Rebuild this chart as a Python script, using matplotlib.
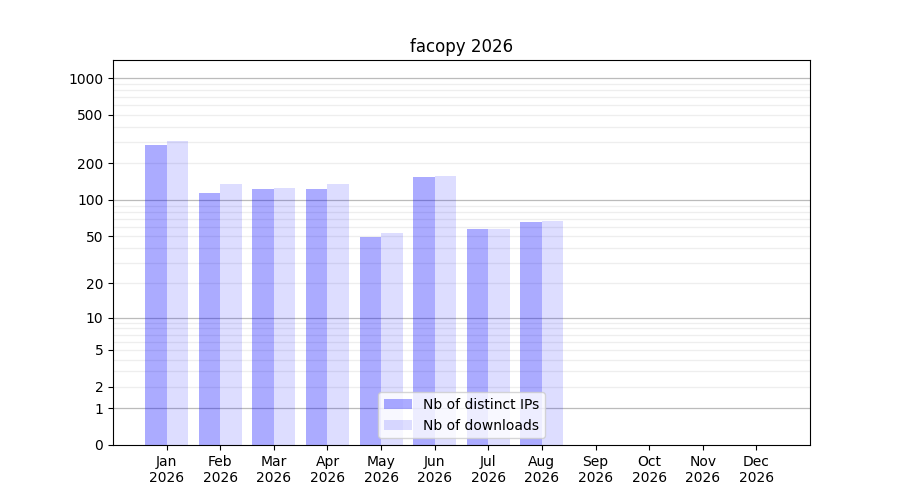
import numpy as np
import matplotlib
matplotlib.use('Agg')
import matplotlib.pyplot as plt

months = ['Jan', 'Feb', 'Mar', 'Apr', 'May', 'Jun', 'Jul', 'Aug', 'Sep', 'Oct', 'Nov', 'Dec']
year = 2026
distinct_ips = [285, 115, 124, 124, 49, 156, 57, 66, 0, 0, 0, 0]
downloads = [307, 136, 126, 136, 53, 159, 57, 67, 0, 0, 0, 0]
major_ticks = [0, 1, 2, 5, 10, 20, 50, 100, 200, 500, 1000]
grid_major = [1, 10, 100, 1000]
grid_minor = [m * d for d in (1, 10, 100) for m in range(2, 10)]


def forward(v):
    return np.log10(1 + np.maximum(v, 0))


def inverse(v):
    return 10 ** v - 1


fig, ax = plt.subplots(figsize=(9, 5), dpi=100)
ax.set_yscale('function', functions=(forward, inverse))

x = np.arange(len(months))
w = 0.4
ax.bar(x - w / 2, distinct_ips, width=w, color='blue', alpha=0.33, label='Nb of distinct IPs')
ax.bar(x + w / 2, downloads, width=w, color='blue', alpha=0.135, label='Nb of downloads')

# grid lines drawn by hand so they sit behind the translucent bars
for g in grid_major:
    ax.axhline(g, color='#bbbbbb', lw=0.9, zorder=0)
for g in grid_minor:
    ax.axhline(g, color='#eeeeee', lw=0.9, zorder=0)

ax.set_ylim(0, 1410)
ax.set_yticks(major_ticks)
ax.set_yticklabels([str(t) for t in major_ticks])
ax.minorticks_off()
ax.set_xlim(-1, 12)
ax.set_xticks(x)
ax.set_xticklabels(['%s\n%d' % (m, year) for m in months])
ax.set_title('facopy %d' % year)
ax.legend(loc='lower center')

fig.subplots_adjust(left=0.1256, right=0.9, top=0.88, bottom=0.11)
fig.savefig('out.png')
